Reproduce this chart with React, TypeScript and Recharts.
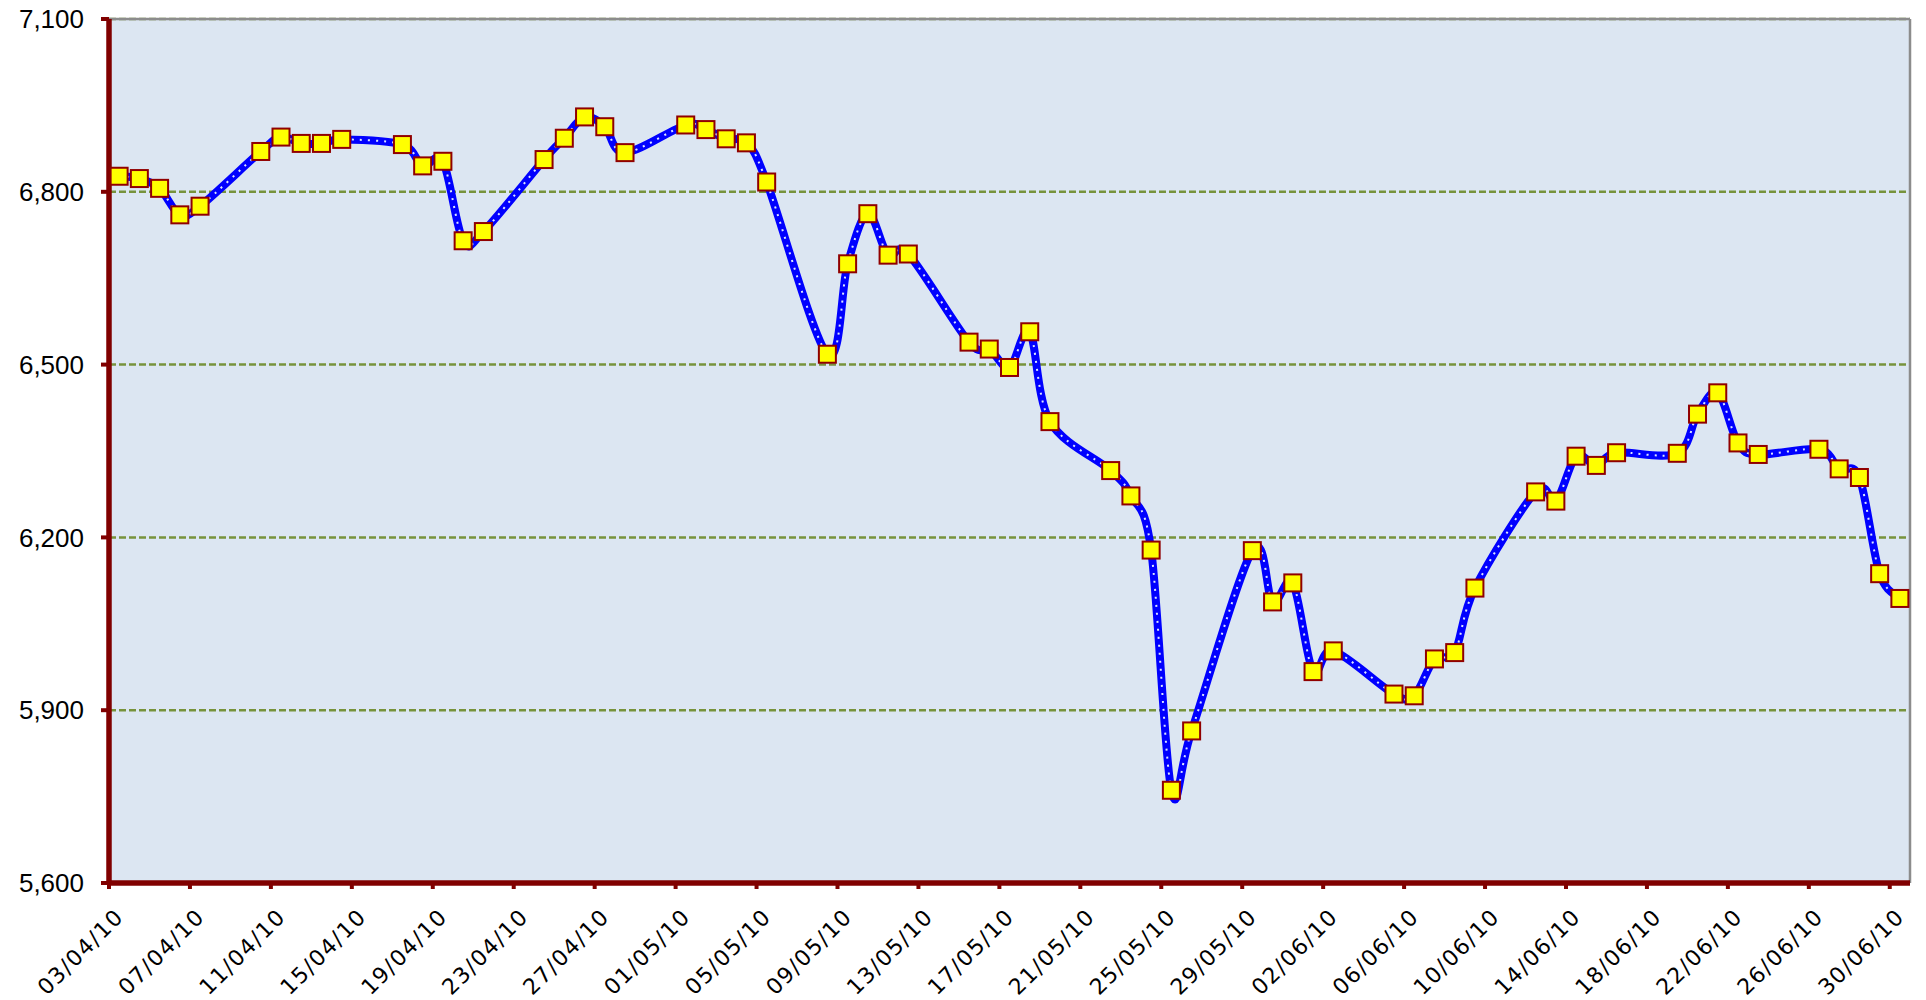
import {
  LineChart,
  Line,
  XAxis,
  YAxis,
  CartesianGrid,
  ReferenceLine,
} from 'recharts';

// trading days (dd/mm/yy) and closing values
const dates = [
  '03/04/10', '04/04/10', '05/04/10', '06/04/10', '07/04/10',
  '10/04/10', '11/04/10', '12/04/10', '13/04/10', '14/04/10',
  '17/04/10', '18/04/10', '19/04/10', '20/04/10', '21/04/10',
  '24/04/10', '25/04/10', '26/04/10', '27/04/10', '28/04/10',
  '01/05/10', '02/05/10', '03/05/10', '04/05/10', '05/05/10',
  '08/05/10', '09/05/10', '10/05/10', '11/05/10', '12/05/10',
  '15/05/10', '16/05/10', '17/05/10', '18/05/10', '19/05/10',
  '22/05/10', '23/05/10', '24/05/10', '25/05/10', '26/05/10',
  '29/05/10', '30/05/10', '31/05/10', '01/06/10', '02/06/10',
  '05/06/10', '06/06/10', '07/06/10', '08/06/10', '09/06/10',
  '12/06/10', '13/06/10', '14/06/10', '15/06/10', '16/06/10',
  '19/06/10', '20/06/10', '21/06/10', '22/06/10', '23/06/10',
  '26/06/10', '27/06/10', '28/06/10', '29/06/10', '30/06/10',
];

const closes = [
  6827, 6823, 6806, 6760, 6775,
  6870, 6895, 6884, 6884, 6891,
  6882, 6845, 6853, 6715, 6731,
  6856, 6893, 6930, 6913, 6868,
  6916, 6908, 6892, 6885, 6817,
  6518, 6675, 6762, 6690, 6692,
  6539, 6527, 6495, 6557, 6401,
  6316, 6272, 6178, 5761, 5864,
  6177, 6088, 6121, 5967, 6003,
  5928, 5925, 5989, 6000, 6112,
  6279, 6263, 6341, 6325, 6347,
  6346, 6414, 6451, 6364, 6344,
  6353, 6319, 6304, 6137, 6094,
];

const tickLabels = [
  '03/04/10', '07/04/10', '11/04/10', '15/04/10', '19/04/10', '23/04/10',
  '27/04/10', '01/05/10', '05/05/10', '09/05/10', '13/05/10', '17/05/10',
  '21/05/10', '25/05/10', '29/05/10', '02/06/10', '06/06/10', '10/06/10',
  '14/06/10', '18/06/10', '22/06/10', '26/06/10', '30/06/10',
];

const yTicks = [5600, 5900, 6200, 6500, 6800, 7100];

const DAY = 86400000;
const toTime = (s: string) => {
  const [d, m, y] = s.split('/').map(Number);
  return Date.UTC(2000 + y, m - 1, d);
};
const start = toTime(tickLabels[0]);
const dayOf = (s: string) => Math.round((toTime(s) - start) / DAY);

const tickDays = tickLabels.map(dayOf);
const lastDay = dayOf(tickLabels[tickLabels.length - 1]) + 1;

// each day occupies a slot, points sit in the middle of it
const data = dates.map((d, i) => ({ x: dayOf(d) + 0.5, close: closes[i] }));

// Excel-like smoothed line (Catmull-Rom through the points)
const smooth = (context: any) => {
  let pts: number[][] = [];
  return {
    areaStart() {},
    areaEnd() {},
    lineStart() {
      pts = [];
    },
    point(x: number, y: number) {
      pts.push([+x, +y]);
    },
    lineEnd() {
      const n = pts.length;
      if (!n) return;
      context.moveTo(pts[0][0], pts[0][1]);
      for (let i = 0; i < n - 1; i++) {
        const p0 = pts[i - 1] || pts[i];
        const p1 = pts[i];
        const p2 = pts[i + 1];
        const p3 = pts[i + 2] || p2;
        context.bezierCurveTo(
          p1[0] + (p2[0] - p0[0]) / 6,
          p1[1] + (p2[1] - p0[1]) / 6,
          p2[0] - (p3[0] - p1[0]) / 6,
          p2[1] - (p3[1] - p1[1]) / 6,
          p2[0],
          p2[1]
        );
      }
    },
  };
};

const AXIS = '#800000';

const DateTick = ({ x, y, payload }: any) => {
  const label = tickLabels[tickDays.indexOf(payload.value)];
  const ax = x + 16;
  const ay = y + 27;
  return (
    <text
      x={ax}
      y={ay}
      textAnchor="end"
      transform={`rotate(-45, ${ax}, ${ay})`}
      fontFamily="DejaVu Sans, Verdana, sans-serif"
      fontSize={22}
      letterSpacing={1.5}
      fill="#000"
    >
      {label}
    </text>
  );
};

const SquareDot = ({ cx, cy, index }: any) => (
  <rect
    key={index}
    x={cx - 8.5}
    y={cy - 8.5}
    width={17}
    height={17}
    fill="#FFFF00"
    stroke="#900000"
    strokeWidth={2}
  />
);

export default function App() {
  return (
    <div style={{ position: 'absolute', left: 0, top: 0, background: '#fff' }}>
      <LineChart
        width={1926}
        height={1000}
        data={data}
        margin={{ top: 19, right: 16, bottom: 0, left: 0 }}
      >
        <CartesianGrid
          horizontal
          vertical={false}
          fill="#DCE6F2"
          stroke="#77933C"
          strokeWidth={2.5}
          strokeDasharray="7 3"
        />
        <ReferenceLine y={7100} stroke="#8c8c8c" strokeWidth={2.5} />
        <ReferenceLine x={lastDay} stroke="#8c8c8c" strokeWidth={2.5} />
        <XAxis
          type="number"
          dataKey="x"
          domain={[0, lastDay]}
          ticks={tickDays}
          interval={0}
          height={117}
          allowDataOverflow
          axisLine={{ stroke: AXIS, strokeWidth: 5.5 }}
          tickLine={{ stroke: AXIS, strokeWidth: 4 }}
          tickSize={6}
          tick={DateTick}
        />
        <YAxis
          type="number"
          domain={[5600, 7100]}
          ticks={yTicks}
          interval={0}
          width={109}
          allowDataOverflow
          axisLine={{ stroke: AXIS, strokeWidth: 5.5 }}
          tickLine={{ stroke: AXIS, strokeWidth: 4 }}
          tickSize={8}
          tickMargin={17}
          tickFormatter={(v: number) => v.toLocaleString('en-US')}
          tick={{
            fill: '#000',
            fontSize: 26,
            fontFamily: 'Liberation Sans, Arial, sans-serif',
          }}
        />
        <Line
          dataKey="close"
          type={smooth as any}
          stroke="#0000FF"
          strokeWidth={8}
          dot={false}
          activeDot={false}
          isAnimationActive={false}
        />
        <Line
          dataKey="close"
          type={smooth as any}
          stroke="#DDE6FF"
          strokeWidth={2}
          strokeDasharray="2 6"
          dot={false}
          activeDot={false}
          isAnimationActive={false}
        />
        <Line
          dataKey="close"
          type="linear"
          stroke="none"
          dot={SquareDot}
          activeDot={false}
          isAnimationActive={false}
        />
      </LineChart>
    </div>
  );
}
